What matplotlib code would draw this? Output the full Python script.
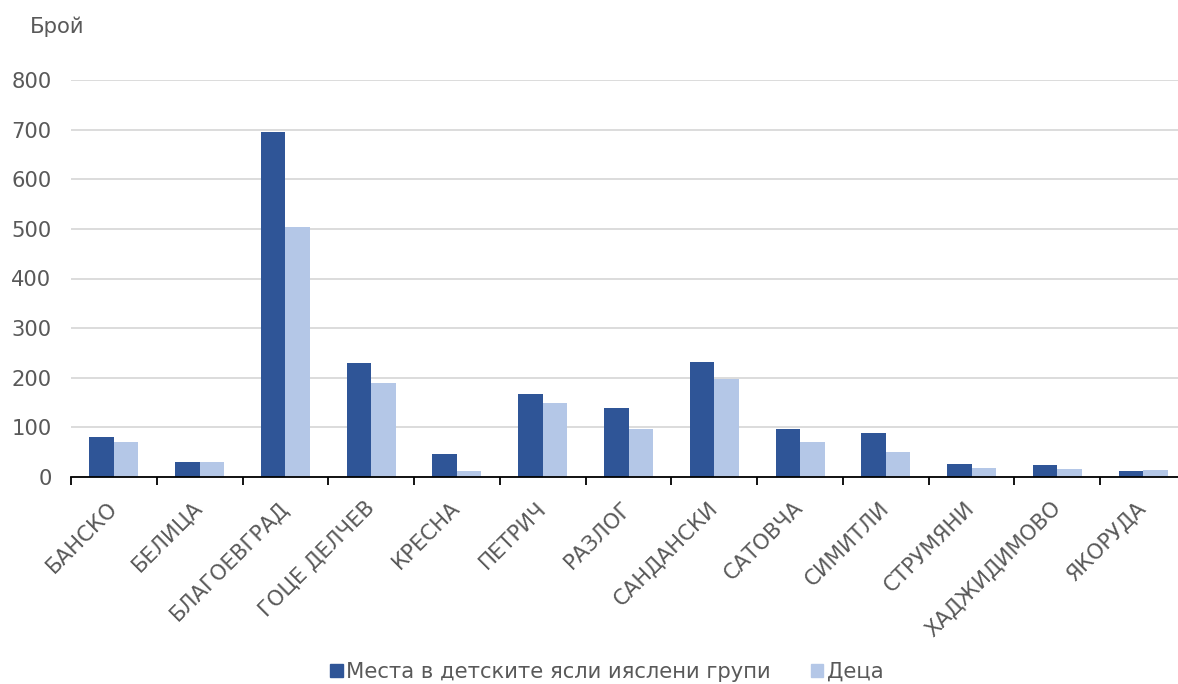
import numpy as np
import matplotlib
matplotlib.use("Agg")
import matplotlib.pyplot as plt
from matplotlib.patches import Patch

# municipalities of Blagoevgrad region
towns = ["БАНСКО", "БЕЛИЦА", "БЛАГОЕВГРАД", "ГОЦЕ ДЕЛЧЕВ", "КРЕСНА", "ПЕТРИЧ",
         "РАЗЛОГ", "САНДАНСКИ", "САТОВЧА", "СИМИТЛИ", "СТРУМЯНИ",
         "ХАДЖИДИМОВО", "ЯКОРУДА"]
places = [81, 30, 695, 230, 47, 168, 139, 232, 96, 88, 26, 24, 12]
children = [70, 30, 503, 189, 12, 149, 96, 197, 71, 50, 18, 16, 15]

series_names = ["Места в детските ясли ияслени групи", "Деца"]
dark = "#2F5597"
light = "#B4C7E7"
grey = "#595959"
fs = 15.2

plt.rcParams["font.family"] = ["DejaVu Sans"]

fig = plt.figure(figsize=(11.78, 6.84), dpi=100)
ax = fig.add_axes([71 / 1178, 1 - 477 / 684, 1115 / 1178, 397 / 684])

x = np.arange(len(towns))
w = 0.286
ax.bar(x - w / 2, places, w, color=dark, zorder=3)
ax.bar(x + w / 2, children, w, color=light, zorder=3)

ax.set_xlim(-0.5, len(towns) - 0.5)
ax.set_ylim(0, 800)
ax.set_yticks(range(0, 801, 100))
ax.yaxis.grid(True, color="#d9d9d9", linewidth=1.3, zorder=0)
ax.tick_params(axis="y", length=0, pad=14, labelsize=fs, labelcolor=grey)

# boundary ticks without labels, names on category centres
ax.set_xticks(np.arange(len(towns) + 1) - 0.5)
ax.set_xticklabels([])
ax.tick_params(axis="x", which="major", length=6, width=1.3, color="black", direction="out")
ax.set_xticks(x, minor=True)
ax.set_xticklabels(towns, minor=True, rotation=45, ha="right", va="center",
                   rotation_mode="anchor", fontsize=fs, color=grey)
ax.tick_params(axis="x", which="minor", length=0, pad=20)

for s in ["top", "right", "left"]:
    ax.spines[s].set_visible(False)
ax.spines["bottom"].set_color("black")
ax.spines["bottom"].set_linewidth(1.3)
ax.spines["bottom"].set_zorder(4)

fig.text(30 / 1178, 1 - 27 / 684, "Брой", fontsize=fs, color=grey, va="center")

handles = [Patch(color=dark), Patch(color=light)]
fig.legend(handles, series_names, loc="center", bbox_to_anchor=(0.515, 1 - 672 / 684),
           ncol=2, frameon=False, fontsize=fs, labelcolor=grey,
           handlelength=0.6, handleheight=0.6, handletextpad=0.15, columnspacing=1.9)

fig.savefig("out.png", dpi=100)
